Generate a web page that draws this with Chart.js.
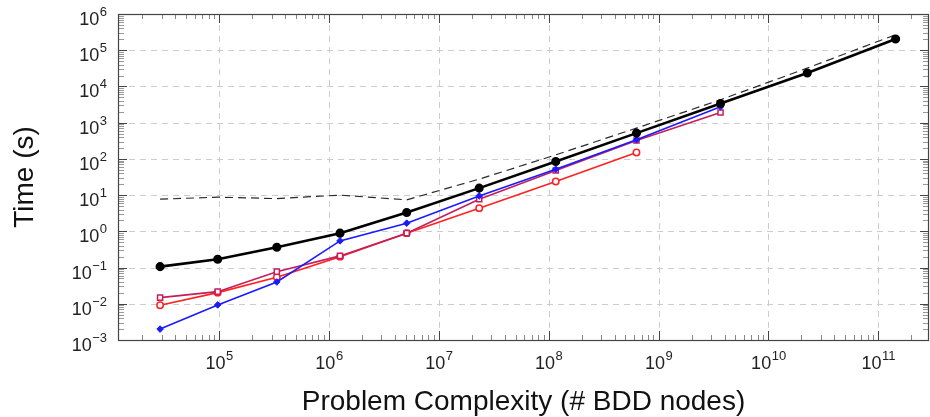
<!DOCTYPE html>
<html>
<head>
<meta charset="utf-8">
<script src="https://cdn.jsdelivr.net/npm/chart.js@4"></script>
<style>
  body { margin: 0; background: #fff; }
  canvas { display: block; }
</style>
</head>
<body>
<canvas id="myChart" width="930" height="417"></canvas>
<script>
// problem sizes (# BDD nodes) shared by all runs
const complexity = [2.9e4, 9.7e4, 3.35e5, 1.26e6, 5.1e6, 2.33e7, 1.16e8, 6.3e8, 3.67e9, 2.26e10, 1.44e11];

// times in seconds
const timeBlack   = [0.106, 0.17, 0.365, 0.89, 3.3, 15.6, 84.5, 515, 3390, 23400, 2.04e5];
const timeBound   = [7.7, 8.8, 8.0, 10, 7.4, 27.6, 129, 708, 4290, 32200, 2.68e5];
const timeBlue    = [0.002, 0.0093, 0.040, 0.545, 1.68, 9.5, 52, 336, 2750];
const timeRed     = [0.0091, 0.0203, 0.054, 0.20, 0.89, 4.36, 23.7, 150];
const timeCrimson = [0.0148, 0.0216, 0.077, 0.21, 0.89, 7.7, 47.7, 321, 1910];

// tick labels (powers of ten)
const xTickExps = [5, 6, 7, 8, 9, 10, 11];
const yTickExps = [-3, -2, -1, 0, 1, 2, 3, 4, 5, 6];

const xTitle = "Problem Complexity (# BDD nodes)";
const yTitle = "Time (s)";

function pts(ys) {
    return ys.map((v, i) => ({x: complexity[i], y: v}));
}

function sup(e) {
    return String(e).replace("-", "\u2212");
}

const frame = {
    id: "frame",
    beforeDatasetsDraw(chart) {
        const {ctx, chartArea: a, scales: {x, y}} = chart;
        ctx.save();
        ctx.strokeStyle = "#cccccc";
        ctx.lineWidth = 1;
        ctx.setLineDash([6, 5]);
        xTickExps.forEach(e => {
            const px = Math.round(x.getPixelForValue(Math.pow(10, e))) + 0.5;
            ctx.beginPath(); ctx.moveTo(px, a.top); ctx.lineTo(px, a.bottom); ctx.stroke();
        });
        yTickExps.forEach(e => {
            const py = Math.round(y.getPixelForValue(Math.pow(10, e))) + 0.5;
            ctx.beginPath(); ctx.moveTo(a.left, py); ctx.lineTo(a.right, py); ctx.stroke();
        });
        ctx.restore();
    },
    afterDatasetsDraw(chart) {
        const {ctx, chartArea: a, scales: {x, y}} = chart;
        ctx.save();
        ctx.setLineDash([]);
        ctx.lineWidth = 1;

        // x ticks, bottom and top, pointing inwards
        for (let e = 4; e <= 11; e++) {
            for (let m = 1; m <= 9; m++) {
                const v = m * Math.pow(10, e);
                if (v < x.min || v > x.max) continue;
                const px = Math.round(x.getPixelForValue(v)) + 0.5;
                const len = m === 1 ? 9 : 5;
                ctx.strokeStyle = m === 1 ? "#444" : "#888";
                ctx.beginPath();
                ctx.moveTo(px, a.bottom); ctx.lineTo(px, a.bottom - len);
                ctx.moveTo(px, a.top); ctx.lineTo(px, a.top + len);
                ctx.stroke();
            }
        }
        // y ticks, left and right
        for (let e = -3; e <= 6; e++) {
            for (let m = 1; m <= 9; m++) {
                const v = m * Math.pow(10, e);
                if (v < y.min || v > y.max) continue;
                const py = Math.round(y.getPixelForValue(v)) + 0.5;
                const len = m === 1 ? 9 : 6;
                ctx.strokeStyle = m === 1 ? "#444" : "#999";
                ctx.beginPath();
                ctx.moveTo(a.left, py); ctx.lineTo(a.left + len, py);
                ctx.moveTo(a.right, py); ctx.lineTo(a.right - len, py);
                ctx.stroke();
            }
        }

        // box
        ctx.strokeStyle = "#444";
        ctx.lineWidth = 1.2;
        ctx.strokeRect(Math.round(a.left) + 0.5, Math.round(a.top) + 0.5,
            Math.round(a.right - a.left) - 1, Math.round(a.bottom - a.top));

        // tick labels
        ctx.fillStyle = "#222";
        const base = "18px 'Liberation Sans', sans-serif";
        const small = "13px 'Liberation Sans', sans-serif";
        ctx.textBaseline = "alphabetic";
        ctx.textAlign = "left";
        xTickExps.forEach(e => {
            const px = x.getPixelForValue(Math.pow(10, e));
            ctx.font = base;
            const w1 = ctx.measureText("10").width;
            ctx.font = small;
            const w2 = ctx.measureText(sup(e)).width;
            const x0 = px - (w1 + w2) / 2;
            ctx.font = base;
            ctx.fillText("10", x0, 369);
            ctx.font = small;
            ctx.fillText(sup(e), x0 + w1 + 0.5, 360);
        });
        yTickExps.forEach(e => {
            const py = y.getPixelForValue(Math.pow(10, e));
            ctx.font = small;
            const w2 = ctx.measureText(sup(e)).width;
            ctx.font = base;
            const w1 = ctx.measureText("10").width;
            const right = 107;
            ctx.fillText("10", right - w2 - 0.5 - w1, py + 11);
            ctx.font = small;
            ctx.fillText(sup(e), right - w2, py + 2);
        });

        // axis titles
        ctx.fillStyle = "#111";
        ctx.font = "28px 'Liberation Sans', sans-serif";
        ctx.textAlign = "center";
        ctx.fillText(xTitle, (a.left + a.right) / 2, 410);
        ctx.translate(33, (a.top + a.bottom) / 2);
        ctx.rotate(-Math.PI / 2);
        ctx.fillText(yTitle, 0, 0);
        ctx.restore();
    }
};

const ctx = document.getElementById("myChart").getContext("2d");
const myChart = new Chart(ctx, {
    type: "line",
    data: {
        datasets: [
            {
                data: pts(timeBlack),
                borderColor: "#000",
                backgroundColor: "#000",
                borderWidth: 2.6,
                pointStyle: "circle",
                pointRadius: 3.8,
                pointBorderWidth: 1.5
            },
            {
                data: pts(timeBound),
                borderColor: "#2a2a2a",
                borderWidth: 1.2,
                borderDash: [8, 5],
                pointRadius: 0
            },
            {
                data: pts(timeBlue),
                borderColor: "#1a1aff",
                backgroundColor: "#1a1aff",
                borderWidth: 1.6,
                pointStyle: "rectRot",
                pointRadius: 3.3,
                pointBorderWidth: 1
            },
            {
                data: pts(timeCrimson),
                borderColor: "#c41e5a",
                backgroundColor: "#fff",
                borderWidth: 1.6,
                pointStyle: "rect",
                pointRadius: 3.6,
                pointBorderWidth: 1.5
            },
            {
                data: pts(timeRed),
                borderColor: "#ff2020",
                backgroundColor: "#fff",
                borderWidth: 1.6,
                pointStyle: "circle",
                pointRadius: 3.2,
                pointBorderWidth: 1.5
            }
        ]
    },
    options: {
        responsive: false,
        animation: false,
        events: [],
        layout: {autoPadding: false, padding: {top: 14, right: 1, left: 0, bottom: 0}},
        plugins: {legend: {display: false}, tooltip: {enabled: false}},
        elements: {line: {tension: 0}},
        scales: {
            x: {
                type: "logarithmic",
                min: 1.2e4,
                max: 2.9e11,
                ticks: {display: false},
                grid: {display: false},
                border: {display: false},
                afterFit: s => { s.height = 77; }
            },
            y: {
                type: "logarithmic",
                min: 1e-3,
                max: 1e6,
                ticks: {display: false},
                grid: {display: false},
                border: {display: false},
                afterFit: s => { s.width = 118; }
            }
        }
    },
    plugins: [frame]
});
</script>
</body>
</html>
